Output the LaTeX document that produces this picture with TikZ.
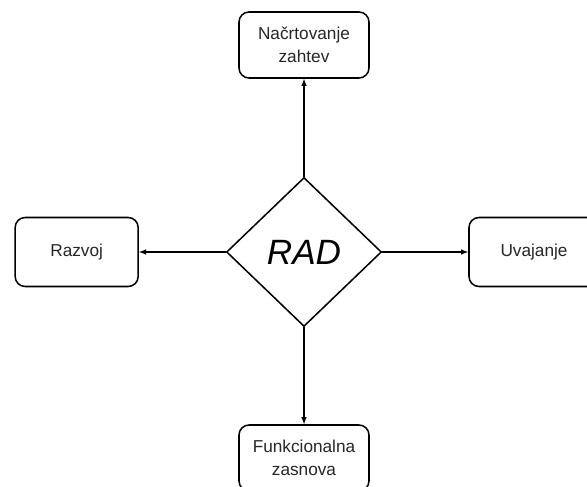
\documentclass[tikz,border=0pt]{standalone}
\usepackage{fontspec}
\setmainfont{Liberation Sans}
\usepackage{tikz}
\usetikzlibrary{shapes.geometric}
\tikzstyle{box}=[rectangle,draw,rounded corners=0.3cm,line width=1.3pt,fill=white,text=black!85,align=center,font=\fontsize{14.7}{19.6}\selectfont]
\tikzstyle{hub}=[diamond,draw,line width=1.3pt,inner sep=0pt,minimum width=4.65cm,minimum height=4.47cm,font=\fontsize{30}{36}\selectfont\itshape]
\tikzstyle{link}=[->,line width=1.1pt,>=latex]

\begin{document}
\begin{tikzpicture}

  \useasboundingbox (0,0) rectangle (17.61,14.61);
  \clip (0,0) rectangle (17.61,14.61);

  \node[hub] (R) at (9.12,7.05) {RAD};
  \node[box,minimum width=3.9cm,minimum height=1.98cm] (N) at (9.12,13.26) {Načrtovanje\\zahtev};
  \node[box,minimum width=3.69cm,minimum height=2.07cm] (Rz) at (2.3,7.05) {Razvoj};
  \node[box,minimum width=3.9cm,minimum height=2.07cm] (U) at (16.02,7.05) {Uvajanje};
  \node[box,minimum width=3.9cm,minimum height=1.98cm] (F) at (9.12,0.87) {Funkcionalna\\zasnova};

  \draw[link] (R)--(N); \draw[link] (R)--(F);
  \draw[link] (R)--(Rz); \draw[link] (R)--(U);

\end{tikzpicture}
\end{document}
